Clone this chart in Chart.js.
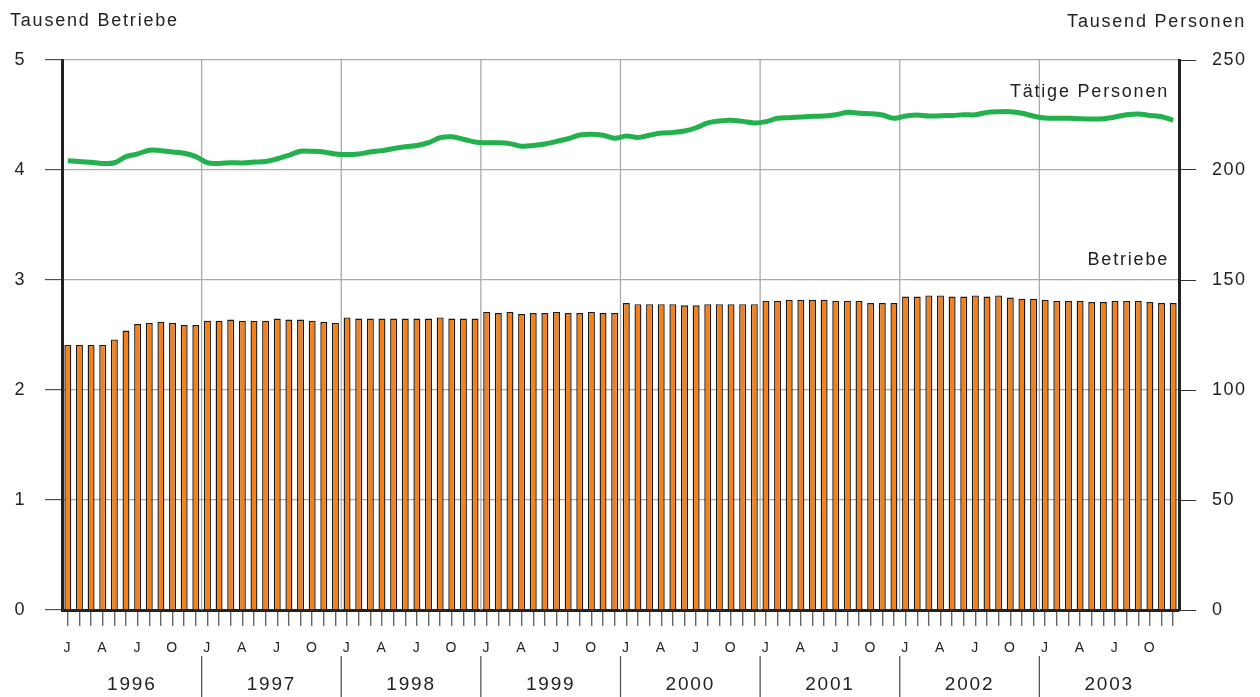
<!DOCTYPE html>
<html>
<head>
<meta charset="utf-8">
<script src="https://cdn.jsdelivr.net/npm/chart.js@4"></script>
<style>
  html, body { margin: 0; padding: 0; background: #fff; }
  #wrap { width: 1260px; height: 697px; }
</style>
</head>
<body>
<div id="wrap"><canvas id="chart" width="1260" height="697"></canvas></div>
<script>
// Jahre und Monate (Januar 1996 bis Dezember 2003)
const years = ['1996', '1997', '1998', '1999', '2000', '2001', '2002', '2003'];
const monthLetters = ['J', '', '', 'A', '', '', 'J', '', '', 'O', '', ''];

// Betriebe (Tausend), linke Achse
const betriebe = [
    2.41, 2.41, 2.41, 2.41, 2.46, 2.54, 2.60, 2.61, 2.62, 2.61, 2.59, 2.59,
    2.63, 2.63, 2.64, 2.63, 2.63, 2.63, 2.65, 2.64, 2.64, 2.63, 2.62, 2.61,
    2.66, 2.65, 2.65, 2.65, 2.65, 2.65, 2.65, 2.65, 2.66, 2.65, 2.65, 2.65,
    2.71, 2.70, 2.71, 2.69, 2.70, 2.70, 2.71, 2.70, 2.70, 2.71, 2.70, 2.70,
    2.79, 2.78, 2.78, 2.78, 2.78, 2.77, 2.77, 2.78, 2.78, 2.78, 2.78, 2.78,
    2.81, 2.81, 2.82, 2.82, 2.82, 2.82, 2.81, 2.81, 2.81, 2.79, 2.79, 2.79,
    2.85, 2.85, 2.86, 2.86, 2.85, 2.85, 2.86, 2.85, 2.86, 2.84, 2.83, 2.83,
    2.82, 2.81, 2.81, 2.81, 2.80, 2.80, 2.81, 2.81, 2.81, 2.80, 2.79, 2.79
];

// Tätige Personen (Tausend), rechte Achse
const personen = [
    204.2, 203.9, 203.5, 203.0, 203.3, 206.1, 207.3, 209.0, 208.8, 208.2, 207.6, 206.1,
    203.3, 203.0, 203.3, 203.2, 203.6, 203.9, 205.1, 206.7, 208.5, 208.5, 208.2, 207.3,
    207.0, 207.3, 208.2, 208.8, 209.8, 210.6, 211.1, 212.4, 214.7, 215.1, 214.0, 212.7,
    212.4, 212.4, 212.0, 210.8, 211.1, 211.8, 213.0, 214.2, 215.9, 216.2, 215.8, 214.4,
    215.5, 214.8, 215.8, 216.8, 217.1, 217.7, 219.2, 221.4, 222.3, 222.6, 222.1, 221.4,
    222.0, 223.5, 223.8, 224.1, 224.4, 224.5, 225.1, 226.2, 225.8, 225.6, 225.0, 223.5,
    224.5, 225.0, 224.5, 224.7, 224.8, 225.1, 225.1, 226.2, 226.5, 226.5, 225.8, 224.5,
    223.6, 223.5, 223.5, 223.3, 223.2, 223.3, 224.1, 225.1, 225.5, 224.8, 224.2, 222.6
];

const leftTicks = [0, 1, 2, 3, 4, 5];
const rightTicks = [0, 50, 100, 150, 200, 250];

const labels = [];
years.forEach(y => { for (let m = 1; m <= 12; m++) labels.push(y + '-' + m); });

const FONT = '"Liberation Sans", Arial, sans-serif';
const TXT = '#222';

// Jahrestrenner, Jahreszahlen und Beschriftungen
const decorPlugin = {
    id: 'decor',
    beforeDraw(chart) {
        chart.ctx.letterSpacing = '1.5px';
    },
    beforeDatasetsDraw(chart) {
        const { ctx, chartArea } = chart;
        const x = chart.scales.x;
        ctx.save();
        ctx.strokeStyle = '#aaa';
        ctx.lineWidth = 1.3;
        for (let k = 1; k < years.length; k++) {
            const px = (x.getPixelForValue(12 * k - 1) + x.getPixelForValue(12 * k)) / 2;
            ctx.beginPath();
            ctx.moveTo(px, chartArea.top);
            ctx.lineTo(px, chartArea.bottom);
            ctx.stroke();
        }
        ctx.restore();
    },
    afterDraw(chart) {
        const { ctx, chartArea } = chart;
        const x = chart.scales.x;
        ctx.save();
        ctx.letterSpacing = '1.8px';
        // Trennstriche unter der Achse
        ctx.strokeStyle = '#555';
        ctx.lineWidth = 1.3;
        for (let k = 1; k < years.length; k++) {
            const px = (x.getPixelForValue(12 * k - 1) + x.getPixelForValue(12 * k)) / 2;
            ctx.beginPath();
            ctx.moveTo(px, 656);
            ctx.lineTo(px, 697);
            ctx.stroke();
        }
        // Jahreszahlen
        ctx.fillStyle = TXT;
        ctx.font = '19px ' + FONT;
        ctx.textAlign = 'center';
        ctx.textBaseline = 'alphabetic';
        years.forEach((y, k) => {
            const c = (x.getPixelForValue(12 * k) + x.getPixelForValue(12 * k + 11)) / 2;
            ctx.fillText(y, c, 690);
        });
        // Achsentitel
        ctx.font = '18px ' + FONT;
        ctx.textAlign = 'left';
        ctx.fillText('Tausend Betriebe', 10, 26);
        ctx.textAlign = 'right';
        ctx.fillText('Tausend Personen', 1246, 27);
        // Reihenbeschriftungen
        ctx.fillText('Tätige Personen', chartArea.right - 10, 97);
        ctx.fillText('Betriebe', chartArea.right - 10, 265);
        ctx.restore();
    }
};

new Chart(document.getElementById('chart'), {
    type: 'bar',
    data: {
        labels: labels,
        datasets: [{
            type: 'line',
            label: 'Tätige Personen',
            data: personen,
            yAxisID: 'y1',
            borderColor: '#22b14c',
            borderWidth: 5,
            tension: 0.35,
            pointRadius: 0,
            order: 0
        }, {
            type: 'bar',
            label: 'Betriebe',
            data: betriebe,
            yAxisID: 'y',
            backgroundColor: '#f4821c',
            borderColor: '#1a1a1a',
            borderWidth: { top: 1.4, left: 1.4, right: 1.4, bottom: 0 },
            borderSkipped: false,
            barPercentage: 0.6,
            categoryPercentage: 1,
            order: 1
        }]
    },
    options: {
        responsive: false,
        animation: false,
        layout: { padding: { top: 60, left: 0, right: 0, bottom: 0 } },
        plugins: {
            legend: { display: false },
            tooltip: { enabled: false }
        },
        scales: {
            x: {
                offset: true,
                afterFit(scale) { scale.height = 87; },
                grid: {
                    display: true,
                    drawOnChartArea: false,
                    offset: false,
                    tickLength: 16,
                    color: '#666',
                    lineWidth: 1.4
                },
                border: { display: true, color: '#222', width: 3 },
                ticks: {
                    autoSkip: false,
                    maxRotation: 0,
                    padding: 14,
                    color: TXT,
                    font: { family: FONT, size: 14 },
                    callback: (v, i) => monthLetters[i % 12]
                }
            },
            y: {
                position: 'left',
                min: 0,
                max: 5,
                afterFit(scale) { scale.width = 62; },
                afterBuildTicks(scale) { scale.ticks = leftTicks.map(v => ({ value: v })); },
                grid: {
                    color: '#aaa',
                    lineWidth: 1.3,
                    tickLength: 17,
                    tickColor: '#333',
                    tickWidth: 1
                },
                border: { display: true, color: '#222', width: 3 },
                ticks: {
                    padding: 19,
                    color: TXT,
                    font: { family: FONT, size: 18 }
                }
            },
            y1: {
                position: 'right',
                min: 0,
                max: 250,
                afterFit(scale) { scale.width = 81; },
                afterBuildTicks(scale) { scale.ticks = rightTicks.map(v => ({ value: v })); },
                grid: {
                    drawOnChartArea: false,
                    tickLength: 17,
                    color: '#333',
                    lineWidth: 1
                },
                border: { display: true, color: '#222', width: 3 },
                ticks: {
                    padding: 16,
                    color: TXT,
                    font: { family: FONT, size: 18 }
                }
            }
        }
    },
    plugins: [decorPlugin]
});
</script>
</body>
</html>
